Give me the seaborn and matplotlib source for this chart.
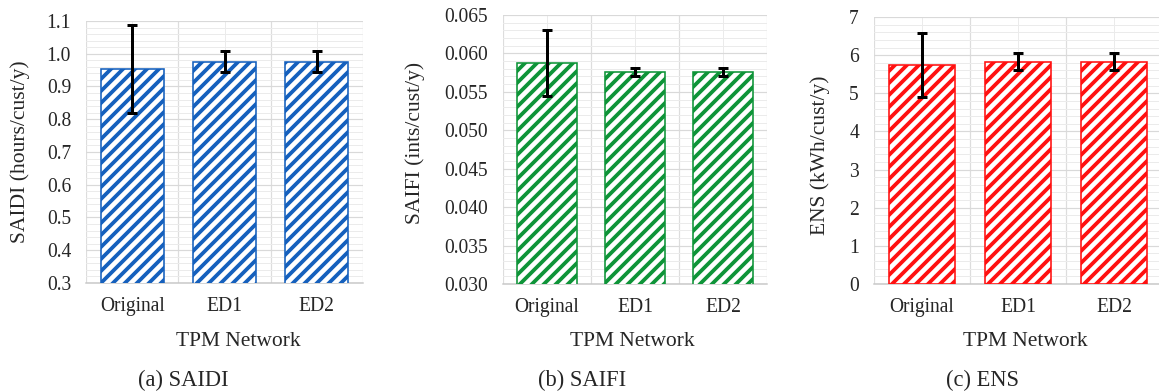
import numpy as np
import pandas as pd
import matplotlib
matplotlib.use("Agg")
import matplotlib.pyplot as plt
from matplotlib.ticker import MultipleLocator, FormatStrFormatter, FixedLocator
import seaborn as sns

# ---- data ----
categories = ["Original", "ED1", "ED2"]
saidi = [0.953, 0.975, 0.975]
saidi_err = [0.135, 0.032, 0.032]
saifi = [0.0587, 0.0576, 0.0576]
saifi_err = [0.0043, 0.0005, 0.0005]
ens = [5.75, 5.83, 5.83]
ens_err = [0.84, 0.22, 0.22]

ylabels = ["SAIDI (hours/cust/y)", "SAIFI (ints/cust/y)", "ENS (kWh/cust/y)"]
titles = ["(a) SAIDI", "(b) SAIFI", "(c) ENS"]
xlabel = "TPM Network"

sns.set_style("white")
plt.rcParams["font.family"] = ["Liberation Serif", "DejaVu Serif"]
plt.rcParams["hatch.linewidth"] = 3.8

W, H = 1159, 392
DPI = 72
fig = plt.figure(figsize=(W / DPI, H / DPI), dpi=DPI)

# pixel boxes: left, right, top, bottom
boxes = [(86, 363, 21, 283), (503, 767, 15, 284), (874, 1162, 17, 284)]
colors = ["#1560BD", "#0E9438", "#FF1010"]
values = [saidi, saifi, ens]
errors = [saidi_err, saifi_err, ens_err]
ylims = [(0.3, 1.1), (0.030, 0.065), (0, 7)]
majors = [0.1, 0.005, 1]
fmts = ["%.1f", "%.3f", "%d"]
ylabel_pos = [(20, 152), (415, 143), (820, 155)]
xlabel_x = [238, 632, 1025]
title_x = [183, 582, 982]

for i in range(3):
    l, r, t, b = boxes[i]
    ax = fig.add_axes([l / W, 1 - b / H, (r - l) / W, (b - t) / H])
    df = pd.DataFrame({"cat": categories, "val": values[i]})
    sns.barplot(data=df, x="cat", y="val", ax=ax, color="white",
                edgecolor=colors[i], hatch="//", linewidth=1.6, width=0.68,
                errorbar=None, zorder=3)
    ax.errorbar(np.arange(len(categories)), values[i], yerr=errors[i],
                fmt="none", ecolor="black", elinewidth=3, capsize=5,
                capthick=3, zorder=4)
    ax.set_xlim(-0.5, 2.5)
    ax.set_ylim(*ylims[i])
    ax.yaxis.set_major_locator(MultipleLocator(majors[i]))
    ax.yaxis.set_minor_locator(MultipleLocator(majors[i] / 5))
    ax.yaxis.set_major_formatter(FormatStrFormatter(fmts[i]))
    ax.xaxis.set_minor_locator(FixedLocator([-0.5, 0.5, 1.5, 2.5]))
    ax.grid(which="major", axis="y", color="#D9D9D9", linewidth=1.2, zorder=0)
    ax.grid(which="minor", axis="y", color="#EBEBEB", linewidth=1.0, zorder=0)
    ax.grid(which="minor", axis="x", color="#DDDDDD", linewidth=1.2, zorder=0)
    ax.grid(which="major", axis="x", color="#EBEBEB", linewidth=1.0, zorder=0)
    ax.set_axisbelow(True)
    for s in ["left", "right", "top"]:
        ax.spines[s].set_visible(False)
    ax.spines["bottom"].set_color("#C8C8C8")
    ax.spines["bottom"].set_linewidth(1.5)
    ax.tick_params(axis="y", which="both", length=0, pad=15, labelsize=19.5)
    ax.tick_params(axis="x", which="major", length=6, width=1.2, color="#C8C8C8",
                   pad=8, labelsize=19.5)
    ax.tick_params(axis="x", which="minor", length=0)
    ax.set_ylabel(ylabels[i], fontsize=21.5)
    ax.yaxis.set_label_coords((ylabel_pos[i][0] - l) / (r - l),
                              (b - ylabel_pos[i][1]) / (b - t))
    ax.yaxis.label.set_va("center")
    ax.set_xlabel(xlabel, fontsize=21.5)
    ax.xaxis.set_label_coords((xlabel_x[i] - l) / (r - l), (b - 342) / (b - t))
    ax.xaxis.label.set_va("center")
    fig.text(title_x[i] / W, 1 - 380 / H, titles[i], ha="center", va="center",
             fontsize=22.5)

fig.savefig("out.png", dpi=DPI)
